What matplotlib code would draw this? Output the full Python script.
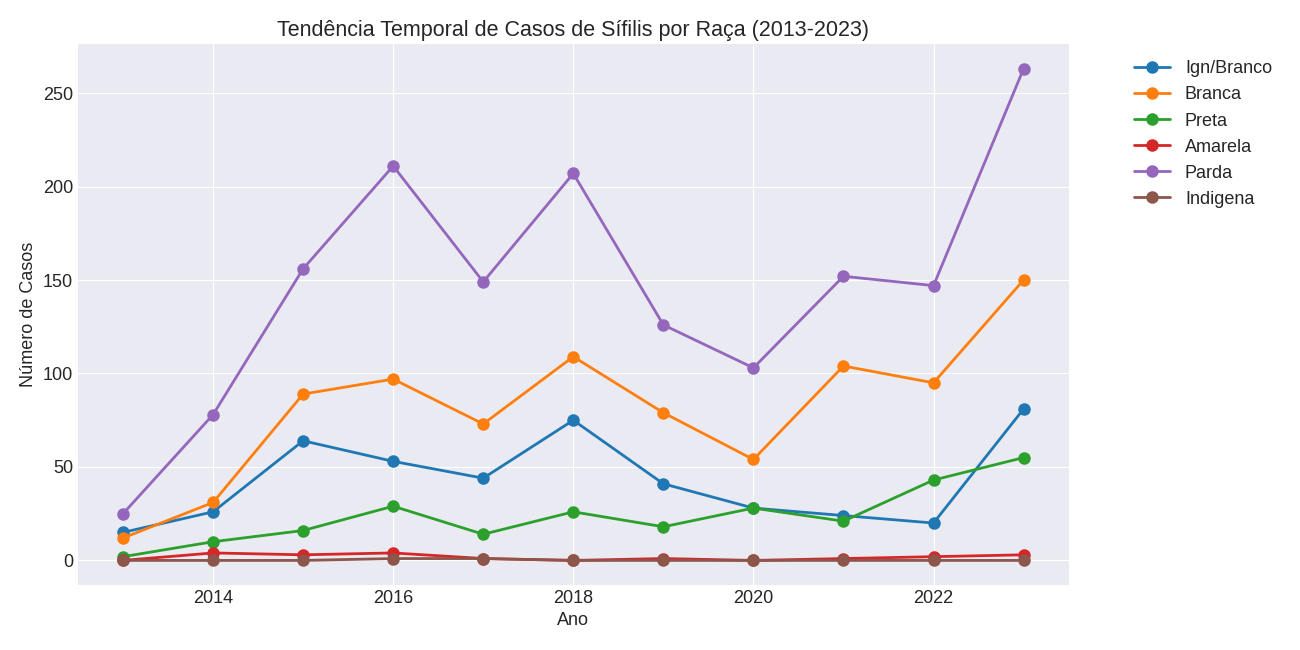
import matplotlib
matplotlib.use('Agg')
import matplotlib.pyplot as plt

anos = [2013, 2014, 2015, 2016, 2017, 2018, 2019, 2020, 2021, 2022, 2023]

ign_branco = [15, 26, 64, 53, 44, 75, 41, 28, 24, 20, 81]
branca = [12, 31, 89, 97, 73, 109, 79, 54, 104, 95, 150]
preta = [2, 10, 16, 29, 14, 26, 18, 28, 21, 43, 55]
amarela = [0, 4, 3, 4, 1, 0, 1, 0, 1, 2, 3]
parda = [25, 78, 156, 211, 149, 207, 126, 103, 152, 147, 263]
indigena = [0, 0, 0, 1, 1, 0, 0, 0, 0, 0, 0]

series = [
    ('Ign/Branco', ign_branco),
    ('Branca', branca),
    ('Preta', preta),
    ('Amarela', amarela),
    ('Parda', parda),
    ('Indigena', indigena),
]

plt.style.use('seaborn-v0_8-darkgrid')
plt.rcParams['font.family'] = ['Liberation Sans', 'DejaVu Sans']

fig, ax = plt.subplots(figsize=(13, 6.5), dpi=100)
fig.subplots_adjust(left=0.06, right=0.822, top=0.932, bottom=0.1)

for nome, valores in series:
    ax.plot(anos, valores, marker='o', markersize=8, linewidth=2, label=nome)

ax.set_title('Tendência Temporal de Casos de Sífilis por Raça (2013-2023)', fontsize=15.5)
ax.set_xlabel('Ano', fontsize=13)
ax.set_ylabel('Número de Casos', fontsize=13)
ax.tick_params(labelsize=13)
ax.legend(loc='upper left', bbox_to_anchor=(1.05, 1.0), fontsize=13, frameon=False)

plt.savefig('out.png')
